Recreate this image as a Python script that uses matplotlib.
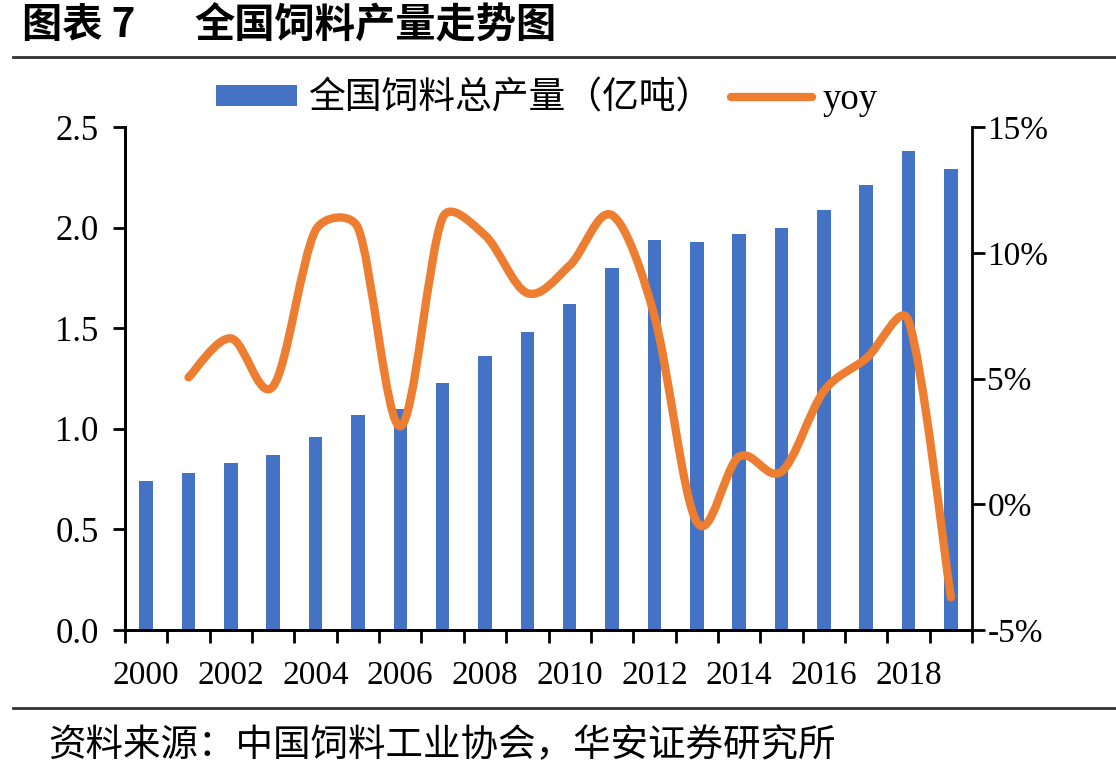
import numpy as np
import matplotlib
matplotlib.use("Agg")
import matplotlib.pyplot as plt
from matplotlib.path import Path
from matplotlib.patches import PathPatch, Patch
from matplotlib.lines import Line2D

plt.rcParams['font.family'] = ['Liberation Serif', 'Noto Sans CJK SC', 'DejaVu Sans']

years = list(range(2000, 2020))
output = [0.74, 0.78, 0.83, 0.87, 0.96, 1.07, 1.10, 1.23, 1.36, 1.48,
          1.62, 1.80, 1.94, 1.93, 1.97, 2.00, 2.09, 2.21, 2.38, 2.29]
yoy_years = list(range(2001, 2020))
yoy = [5.05, 6.6, 4.7, 10.9, 11.0, 3.1, 11.4, 10.7, 8.4,
       9.5, 11.5, 7.5, -0.7, 1.9, 1.3, 4.5, 5.8, 7.3, -3.7]
xlabels = [str(y) if y % 2 == 0 else "" for y in years]

blue = "#4472C4"
orange = "#ED7D31"

fig = plt.figure(figsize=(11.16, 7.75), dpi=100)
ax = fig.add_axes([0.112, 0.187, 0.759, 0.649])
ax2 = ax.twinx()

x = np.arange(len(years))
ax.bar(x, output, width=0.32, color=blue, zorder=2)
ax.set_xlim(-0.5, len(years) - 0.5)
ax.set_ylim(0, 2.5)
ax.set_yticks(np.arange(0, 2.51, 0.5))
ax.set_yticklabels([f"{v:.1f}" for v in np.arange(0, 2.51, 0.5)])
ax.set_xticks(x)
ax.set_xticklabels(xlabels)
ax.set_xticks(np.arange(-0.5, len(years)), minor=True)
ax.tick_params(axis='x', which='major', length=0, pad=22, labelsize=24)
ax.tick_params(axis='x', which='minor', length=9, width=2, direction='out')
ax.tick_params(axis='y', length=9, width=2, direction='out', labelsize=25, pad=10)

ax2.set_ylim(-5, 15)
ax2.set_yticks([-5, 0, 5, 10, 15])
ax2.set_yticklabels(["-5%", "0%", "5%", "10%", "15%"])
ax2.tick_params(axis='y', length=9, width=2, direction='out', labelsize=24, pad=2)

# smoothed yoy line, excel-like bezier through the points (handles limited by segment length)
fig.canvas.draw()
tr = ax2.transData
xi = np.array([years.index(y) for y in yoy_years], dtype=float)
pts = tr.transform(np.column_stack([xi, yoy]))
n = len(pts)
verts = [pts[0]]
codes = [Path.MOVETO]
for i in range(n - 1):
    p0 = pts[max(i - 1, 0)]
    p1 = pts[i]
    p2 = pts[i + 1]
    p3 = pts[min(i + 2, n - 1)]
    seg = np.hypot(*(p2 - p1))
    h1 = (p2 - p0) / 6
    h2 = (p3 - p1) / 6
    lim = 0.4 * seg
    if np.hypot(*h1) > lim:
        h1 = h1 * lim / np.hypot(*h1)
    if np.hypot(*h2) > lim:
        h2 = h2 * lim / np.hypot(*h2)
    verts += [p1 + h1, p2 - h2, p2]
    codes += [Path.CURVE4] * 3
verts = tr.inverted().transform(np.array(verts))
patch = PathPatch(Path(verts, codes), fill=False, edgecolor=orange, lw=6,
                  capstyle='round', joinstyle='round', transform=tr, zorder=3)
ax2.add_patch(patch)

for a in (ax, ax2):
    a.spines['top'].set_visible(False)
    for s in ('left', 'right', 'bottom'):
        a.spines[s].set_linewidth(2)
ax.spines['right'].set_visible(False)

handles = [Patch(facecolor=blue, edgecolor='none'),
           Line2D([0], [0], color=orange, lw=6, solid_capstyle='round')]
fig.legend(handles, ["全国饲料总产量（亿吨）", "yoy"], loc='center', bbox_to_anchor=(0.49, 0.872),
           ncol=2, frameon=False, fontsize=26.5, handlelength=2.2, handleheight=0.5,
           handletextpad=0.3, columnspacing=0.5)

cjk = ['Noto Sans CJK SC', 'DejaVu Sans']
fig.text(0.02, 0.967, "图表 7", fontsize=29, fontweight='bold', family=cjk, va='center', ha='left')
fig.text(0.174, 0.967, "全国饲料产量走势图", fontsize=29, fontweight='bold', family=cjk,
         va='center', ha='left')
fig.add_artist(Line2D([0.012, 1.0], [0.926, 0.926], color='#333333', lw=2))
fig.add_artist(Line2D([0.012, 1.0], [0.086, 0.086], color='#333333', lw=2))
fig.text(0.043, 0.038, "资料来源：中国饲料工业协会，华安证券研究所", fontsize=27,
         family=cjk, va='center', ha='left')

fig.savefig("out.png", dpi=100)
